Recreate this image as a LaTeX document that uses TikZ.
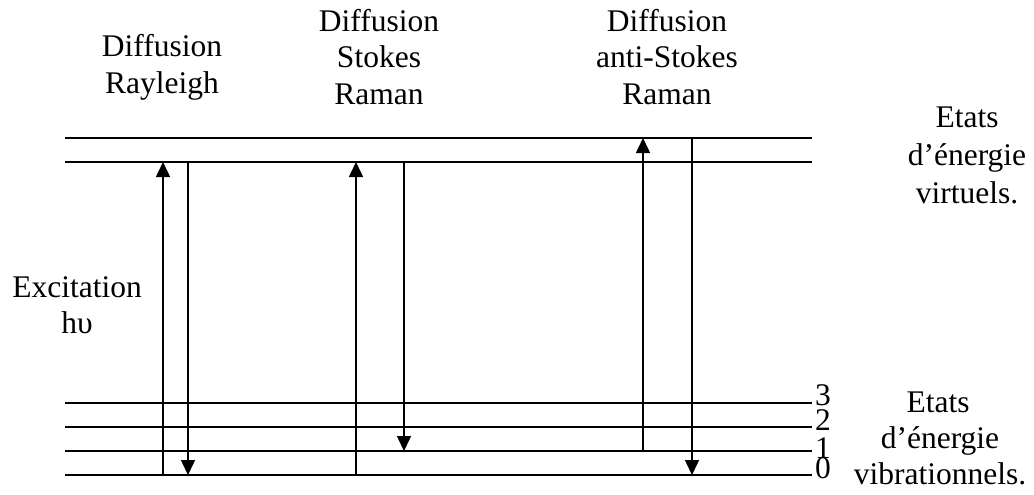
\documentclass[tikz,border=0pt]{standalone}
\usepackage{fontspec}
\setmainfont{Liberation Serif}
\usetikzlibrary{arrows.meta}
\begin{document}
\begin{tikzpicture}[x=1pt,y=-1pt,
  txt/.style={font=\fontsize{31.5}{36.5}\selectfont, inner sep=0pt, anchor=base},
  level/.style={line width=1.8pt},
  arr/.style={line width=1.5pt, -{Triangle[width=14pt,length=15pt]}}]
\useasboundingbox (0,0) rectangle (1034,495);
% energy levels
\foreach \n/\y in {vA/138, vB/162, lC/403, lD/427, lE/451, lF/475}{
  \coordinate (\n W) at (65,\y);
  \coordinate (\n E) at (812,\y);
  \draw[level] (\n W) -- (\n E);
}
% arrow end points
\coordinate (r1b) at (163,475); \coordinate (r1t) at (163,162);
\coordinate (r2t) at (188,162); \coordinate (r2b) at (188,475);
\coordinate (s1b) at (356,475); \coordinate (s1t) at (356,162);
\coordinate (s2t) at (404,162); \coordinate (s2b) at (404,451);
\coordinate (a1b) at (643,451); \coordinate (a1t) at (643,138);
\coordinate (a2t) at (692,138); \coordinate (a2b) at (692,475);
\draw[arr] (r1b) -- (r1t);
\draw[arr] (r2t) -- (r2b);
\draw[arr] (s1b) -- (s1t);
\draw[arr] (s2t) -- (s2b);
\draw[arr] (a1b) -- (a1t);
\draw[arr] (a2t) -- (a2b);
% column titles
\node[txt] (ra1) at (162,57) {Diffusion};
\node[txt] (ra2) at (162,93) {Rayleigh};
\node[txt] (st1) at (379,32) {Diffusion};
\node[txt] (st2) at (379,68) {Stokes};
\node[txt] (st3) at (379,105) {Raman};
\node[txt] (as1) at (667,32) {Diffusion};
\node[txt] (as2) at (667,68) {anti-Stokes};
\node[txt] (as3) at (667,105) {Raman};
% excitation
\node[txt] (ex1) at (77,297) {Excitation};
\node[txt] (ex2) at (77,333) {hυ};
% virtual states label
\node[txt] (vi1) at (967,128) {Etats};
\node[txt] (vi2) at (967,165) {d’énergie};
\node[txt] (vi3) at (967,203) {virtuels.};
% vibrational levels numbers
\node[txt] (n3) at (823,405) {3};
\node[txt] (n2) at (823,430) {2};
\node[txt] (n1) at (823,458) {1};
\node[txt] (n0) at (823,478) {0};
% vibrational states label
\node[txt] (vb1) at (938,412) {Etats};
\node[txt] (vb2) at (940,448) {d’énergie};
\node[txt] (vb3) at (940,484) {vibrationnels.};
\end{tikzpicture}
\end{document}
